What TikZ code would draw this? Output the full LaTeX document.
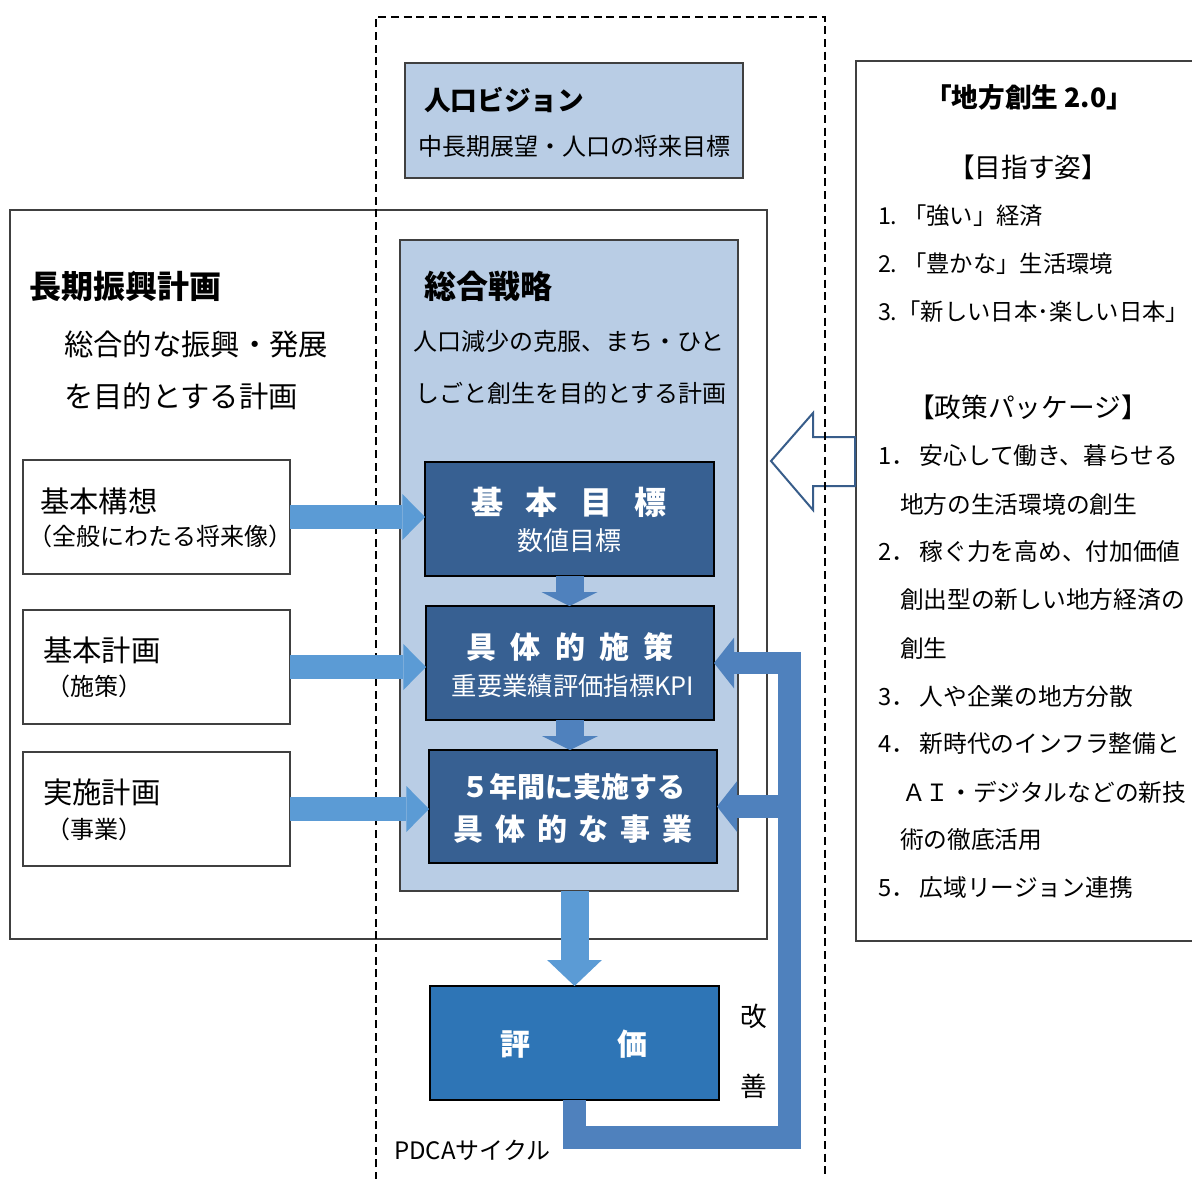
\documentclass[tikz,border=0pt]{standalone}
\usepackage{fontspec}
\setmainfont{Noto Sans CJK JP}
\usetikzlibrary{arrows.meta,fit,calc}
\definecolor{lbox}{HTML}{B9CDE5}
\definecolor{dbox}{HTML}{376092}
\definecolor{ebox}{HTML}{2E75B6}
\definecolor{larr}{HTML}{5B9BD5}
\definecolor{marr}{HTML}{4F81BD}
\definecolor{harr}{HTML}{385D8A}
\definecolor{bord}{HTML}{404040}
\newcommand{\myfs}[1]{\fontsize{#1}{#1}\selectfont}
\begin{document}
\begin{tikzpicture}[x=0.75pt,y=-0.75pt,
  every node/.style={inner sep=0pt, outer sep=0pt},
  lbbox/.style={draw=bord, line width=1pt, fill=lbox},
  wbox/.style={draw=bord, line width=1pt},
  dkbox/.style={draw=black, line width=1pt, fill=dbox},
  evbox/.style={draw=black, line width=1pt, fill=ebox},
  wtxt/.style={text=white},
  barrow/.style={draw=larr, line width=18pt, -{Triangle[width=34.5pt,length=17pt,line width=0pt]}},
  sarrow/.style={draw=marr, line width=21pt, -{Triangle[width=42pt,length=10.5pt,line width=0pt]}},
  bigarrow/.style={draw=larr, line width=21pt, -{Triangle[width=41pt,length=19.5pt,line width=0pt]}},
  pdca/.style={draw=marr, line width=17pt, line join=miter, -{Triangle[width=38pt,length=15pt,line width=0pt]}},
  dashline/.style={draw=black, line width=1.5pt, dash pattern=on 6pt off 3.5pt},
  lft/.style={anchor=west},
  rtxt/.style={anchor=west, font=\myfs{17.5pt}},
  ptxt/.style={anchor=west, font=\myfs{17.8pt}}
]
\useasboundingbox (0,0) rectangle (1192,1178);
\fill[white] (0,0) rectangle (1192,1178);

% large boxes
\node[wbox, fit={(10,210)(767,939)}] (chouki) {};
\node[lbbox, fit={(405,63)(743,178)}] (vision) {};
\node[lbbox, fit={(400,240)(738,891)}] (sogo) {};

% inner dark boxes
\node[dkbox, fit={(425,462)(714,576)}] (kmoku) {};
\node[dkbox, fit={(426,606)(714,720)}] (gsaku) {};
\node[dkbox, fit={(429,750)(717,863)}] (jigyo) {};
\node[evbox, fit={(430,986)(719,1100)}] (hyoka) {};

% left boxes
\node[wbox, fit={(23,460)(290,574)}] (kousou) {};
\node[wbox, fit={(23,610)(290,724)}] (keikaku) {};
\node[wbox, fit={(23,752)(290,866)}] (jisshi) {};

% right box (open to the right)
\coordinate (rbtl) at (856,61);
\coordinate (rbbl) at (856,941);
\draw[draw=bord, line width=1pt] (1200,61) -- (rbtl) -- (rbbl) -- (1200,941);

% hollow arrow
\draw[draw=harr, line width=1.5pt, line join=miter] (771,461) -- (813,413) -- (813,437) -- (855,437) -- (855,486) -- (813,486) -- (813,510) -- cycle;

% dashed frame
\draw[dashline] (376,1180) -- (376,17) -- (825,17) -- (825,1180);

% arrows
\draw[barrow] (kousou.east) -- (kousou.east -| kmoku.west);
\draw[barrow] (keikaku.east) -- (keikaku.east -| gsaku.west);
\draw[barrow] (jisshi.east) -- (jisshi.east -| jigyo.west);
\draw[sarrow] (kmoku.south) -- (kmoku.south |- gsaku.north);
\draw[sarrow] (gsaku.south) -- (gsaku.south |- jigyo.north);
\draw[bigarrow] (sogo.south -| hyoka.north) -- (hyoka.north);

\coordinate (pc) at (789.5,1137.5);
\draw[pdca] (hyoka.south) |- (pc) |- (gsaku.east);
\draw[pdca] (jigyo.east -| pc) -- (jigyo.east);

% texts: vision
\node[lft, font=\bfseries\myfs{20pt}] (visT) at (424,100) {人口ビジョン};
\node[font=\myfs{18pt}] (visS) at (574,146) {中長期展望・人口の将来目標};

% chouki
\node[lft, font=\bfseries\myfs{24pt}] (choT) at (29,286) {長期振興計画};
\node[lft, font=\myfs{22pt}] (choS1) at (64,344) {総合的な振興・発展};
\node[lft, font=\myfs{22pt}] (choS2) at (64,396) {を目的とする計画};

% sogo
\node[lft, font=\bfseries\myfs{24pt}] (sogoT) at (424,286) {総合戦略};
\node[font=\myfs{18pt}] (sogoS1) at (569,341) {人口減少の克服、まち・ひと};
\node[font=\myfs{18pt}] (sogoS2) at (571,393) {しごと創生を目的とする計画};

% dark boxes texts
\node[wtxt, font=\bfseries\myfs{24pt}] (kmokuT) at (569,502) {基\hspace{0.69em}本\hspace{0.69em}目\hspace{0.69em}標};
\node[wtxt, font=\myfs{19.5pt}] (kmokuS) at (569,541) {数値目標};
\node[wtxt, font=\bfseries\myfs{22.5pt}] (gsakuT) at (570,647) {具\hspace{0.47em}体\hspace{0.47em}的\hspace{0.47em}施\hspace{0.47em}策};
\node[wtxt, font=\myfs{19pt}] (gsakuS) at (573,686) {重要業績評価指標KPI};
\node[wtxt, font=\bfseries\myfs{21pt}] (jigyoT) at (573,787) {５年間に実施する};
\node[wtxt, font=\bfseries\myfs{22.5pt}] (jigyoS) at (573,829) {具\hspace{0.39em}体\hspace{0.39em}的\hspace{0.39em}な\hspace{0.39em}事\hspace{0.39em}業};
\node[wtxt, font=\bfseries\myfs{22.5pt}] (hyokaT) at (574,1044) {評\hspace{2.93em}価};

\node[font=\myfs{20pt}] (kai) at (754,1016) {改};
\node[font=\myfs{20pt}] (zen) at (754,1086) {善};
\node[lft, font=\myfs{18pt}] (pdcaT) at (394,1150) {PDCAサイクル};

% left box texts
\node[lft, font=\myfs{22pt}] (kousouT) at (40,501) {基本構想};
\node[lft, font=\myfs{18pt}] (kousouS) at (28,536) {（全般にわたる将来像）};
\node[lft, font=\myfs{22pt}] (keikakuT) at (43,650) {基本計画};
\node[lft, font=\myfs{18pt}] (keikakuS) at (46,686) {（施策）};
\node[lft, font=\myfs{22pt}] (jisshiT) at (43,792) {実施計画};
\node[lft, font=\myfs{18pt}] (jisshiS) at (46,829) {（事業）};

% right box texts
\node[font=\bfseries\myfs{20pt}] (rT) at (1029,97) {「地方創生 2.0」};
\node[font=\myfs{20pt}] (rH1) at (1028,167) {【目指す姿】};
\node[rtxt] (r1) at (878,216) {1.\hspace{0.25em}「強い」経済};
\node[rtxt] (r2) at (878,264) {2.\hspace{0.25em}「豊かな」生活環境};
\node[rtxt] (r3) at (878,312) {3.「新しい日本･楽しい日本」};
\node[font=\myfs{20pt}] (rH2) at (1028,407) {【政策パッケージ】};
\node[ptxt] (p1) at (878,456) {1．\hspace{0.2em}安心して働き、暮らせる};
\node[ptxt] (p1b) at (900,504) {地方の生活環境の創生};
\node[ptxt] (p2) at (878,552) {2．\hspace{0.2em}稼ぐ力を高め、付加価値};
\node[ptxt] (p2b) at (900,600) {創出型の新しい地方経済の};
\node[ptxt] (p2c) at (900,648) {創生};
\node[ptxt] (p3) at (878,696) {3．\hspace{0.2em}人や企業の地方分散};
\node[ptxt] (p4) at (878,744) {4．\hspace{0.2em}新時代のインフラ整備と};
\node[ptxt] (p4b) at (902,792) {ＡＩ・デジタルなどの新技};
\node[ptxt] (p4c) at (900,840) {術の徹底活用};
\node[ptxt] (p5) at (878,888) {5．\hspace{0.2em}広域リージョン連携};
\end{tikzpicture}
\end{document}
